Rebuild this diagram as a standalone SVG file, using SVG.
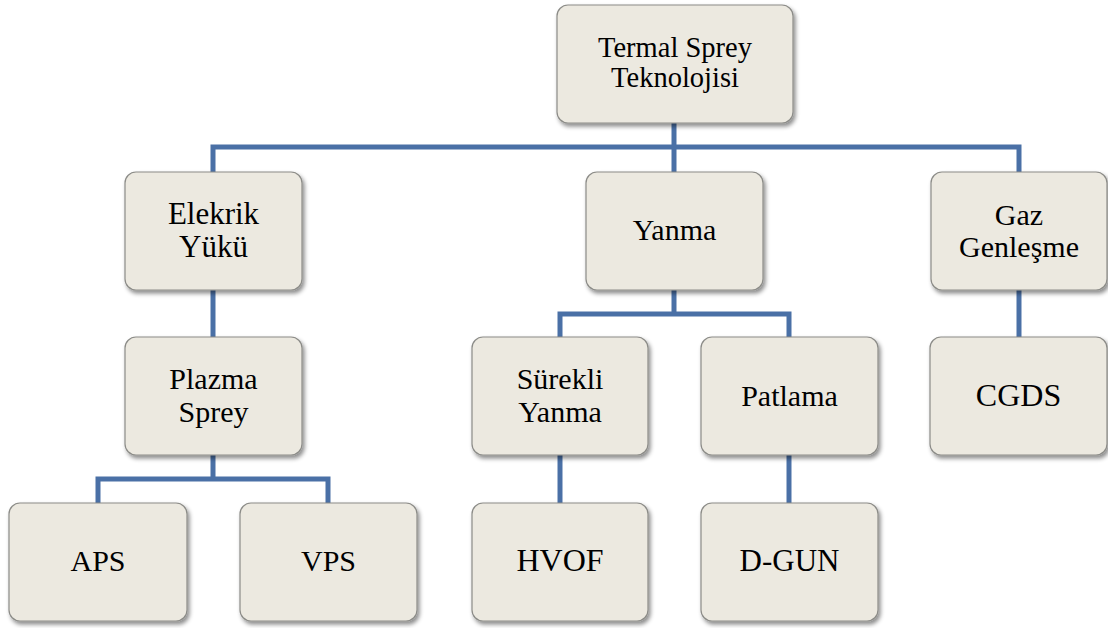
<svg xmlns="http://www.w3.org/2000/svg" width="1108" height="628" viewBox="0 0 1108 628">
  <style>
    .box { fill: #ECE9E0; stroke: #8C8C88; stroke-width: 1.2; filter: url(#sh); }
    .t { font-family: "Liberation Serif", "Times New Roman", serif; font-size: 30px; fill: #000; text-anchor: middle; }
    .conn { fill: none; stroke: #4A70A6; stroke-width: 5; stroke-linejoin: miter; }
  </style>
  <defs>
    <filter id="sh" x="-10%" y="-10%" width="125%" height="130%">
      <feDropShadow dx="2" dy="3" stdDeviation="2.2" flood-color="#000" flood-opacity="0.45"/>
    </filter>
  </defs>
  <rect width="1108" height="628" fill="#fff"/>
  <g id="connectors">
    <path class="conn" d="M674,123 V147 M213,172 V147 H1019 V172 M674,147 V172"/>
    <path class="conn" d="M213,290 V337"/>
    <path class="conn" d="M674,290 V314 M560,337 V314 H789 V337"/>
    <path class="conn" d="M1019,290 V337"/>
    <path class="conn" d="M213,455 V479 M98,503 V479 H328 V503"/>
    <path class="conn" d="M560,455 V503"/>
    <path class="conn" d="M789,455 V503"/>
  </g>
  <g id="root">
    <rect class="box" x="557" y="5" width="236" height="118" rx="11"/>
    <text class="t" x="675" y="57" style="font-size:28.5px">Termal Sprey</text>
    <text class="t" x="675" y="87" style="font-size:28.5px">Teknolojisi</text>
  </g>
  <g id="elektrik">
    <rect class="box" x="125" y="172" width="177" height="118" rx="11"/>
    <text class="t" x="213.5" y="224" style="font-size:31px">Elekrik</text>
    <text class="t" x="213.5" y="257" style="font-size:31px">Yükü</text>
  </g>
  <g id="yanma">
    <rect class="box" x="586" y="172" width="177" height="118" rx="11"/>
    <text class="t" x="674.5" y="240">Yanma</text>
  </g>
  <g id="gaz">
    <rect class="box" x="931" y="172" width="176" height="118" rx="11"/>
    <text class="t" x="1019" y="225">Gaz</text>
    <text class="t" x="1019" y="257">Genleşme</text>
  </g>
  <g id="plazma">
    <rect class="box" x="125" y="337" width="177" height="118" rx="11"/>
    <text class="t" x="213.5" y="389">Plazma</text>
    <text class="t" x="213.5" y="422">Sprey</text>
  </g>
  <g id="surekli">
    <rect class="box" x="472" y="337" width="176" height="118" rx="11"/>
    <text class="t" x="560" y="389">Sürekli</text>
    <text class="t" x="560" y="422">Yanma</text>
  </g>
  <g id="patlama">
    <rect class="box" x="701" y="337" width="177" height="118" rx="11"/>
    <text class="t" x="789.5" y="406">Patlama</text>
  </g>
  <g id="cgds">
    <rect class="box" x="930" y="337" width="177" height="118" rx="11"/>
    <text class="t" x="1018.5" y="406" style="font-size:32px">CGDS</text>
  </g>
  <g id="aps">
    <rect class="box" x="9" y="503" width="178" height="118" rx="11"/>
    <text class="t" x="98" y="571">APS</text>
  </g>
  <g id="vps">
    <rect class="box" x="240" y="503" width="177" height="118" rx="11"/>
    <text class="t" x="328.5" y="571">VPS</text>
  </g>
  <g id="hvof">
    <rect class="box" x="472" y="503" width="176" height="118" rx="11"/>
    <text class="t" x="560" y="571" style="font-size:32px">HVOF</text>
  </g>
  <g id="dgun">
    <rect class="box" x="701" y="503" width="177" height="118" rx="11"/>
    <text class="t" x="789.5" y="571" style="font-size:31px">D-GUN</text>
  </g>
</svg>
